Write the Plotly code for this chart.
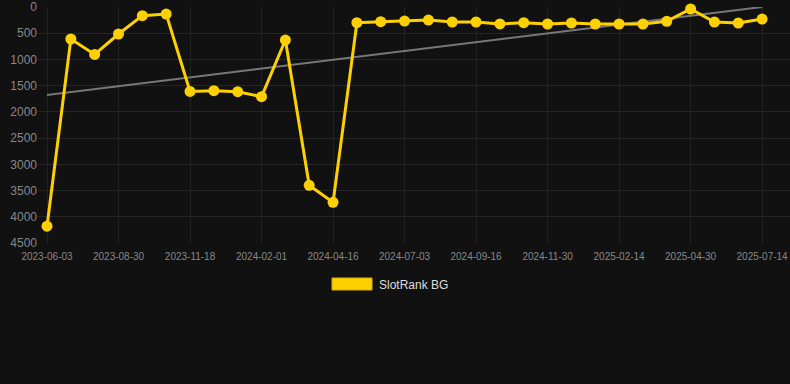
import plotly.graph_objects as go

tick_labels = ["2023-06-03", "2023-08-30", "2023-11-18", "2024-02-01", "2024-04-16",
               "2024-07-03", "2024-09-16", "2024-11-30", "2025-02-14", "2025-04-30", "2025-07-14"]
ranks = [4180, 610, 905, 515, 165, 135, 1610, 1595, 1615, 1710, 630, 3400, 3725, 300, 280,
         268, 250, 286, 286, 322, 300, 324, 305, 324, 324, 324, 273, 38, 286, 305, 230]
trend_vals = [1680, 0]
series_name = "SlotRank BG"

idx = list(range(len(ranks)))
tick_pos = list(range(0, len(ranks), 3))

L, T, PW, PH = 38, 7, 752, 236

fig = go.Figure()
fig.add_trace(go.Scatter(x=[idx[0], idx[-1]], y=trend_vals, mode="lines",
                         line=dict(color="#777777", width=2), showlegend=False,
                         hoverinfo="skip", cliponaxis=False))
fig.add_trace(go.Scatter(x=idx, y=ranks, mode="lines+markers", name=series_name,
                         line=dict(color="#FFD000", width=3),
                         marker=dict(color="#FFD000", size=11), showlegend=False,
                         cliponaxis=False))

fig.add_shape(type="rect", xref="paper", yref="paper",
              x0=(332 - L) / PW, x1=(372 - L) / PW,
              y0=(T + PH - 290) / PH, y1=(T + PH - 278) / PH,
              fillcolor="#FFD000", line=dict(color="#D9B000", width=1))
fig.add_annotation(xref="paper", yref="paper", x=(377 - L) / PW, y=(T + PH - 284.5) / PH,
                   text=series_name, showarrow=False, xanchor="left", yanchor="middle",
                   font=dict(size=12, color="#dddddd", family="Liberation Sans, Arial"))

fig.update_layout(
    width=790, height=384,
    margin=dict(l=L, r=790 - L - PW, t=T, b=384 - T - PH),
    paper_bgcolor="#111111", plot_bgcolor="#111111",
    font=dict(family="Liberation Sans, Arial", color="#888888"),
    showlegend=False,
    xaxis=dict(range=[-0.378, 31.17], tickvals=tick_pos, ticktext=tick_labels,
               tickfont=dict(size=10, color="#888888"), showgrid=True,
               gridcolor="#222222", zeroline=False, showline=False, ticks="outside",
               ticklen=4, tickcolor="#111111"),
    yaxis=dict(range=[4500, 0], tickvals=list(range(0, 4501, 500)),
               tickfont=dict(size=12, color="#888888"), showgrid=True,
               gridcolor="#252525", zeroline=False, showline=False, ticks=""),
)
fig.write_html("out.html", config={"displayModeBar": False},
               post_script="document.body.style.margin='0px';document.body.style.background='#111111';")
